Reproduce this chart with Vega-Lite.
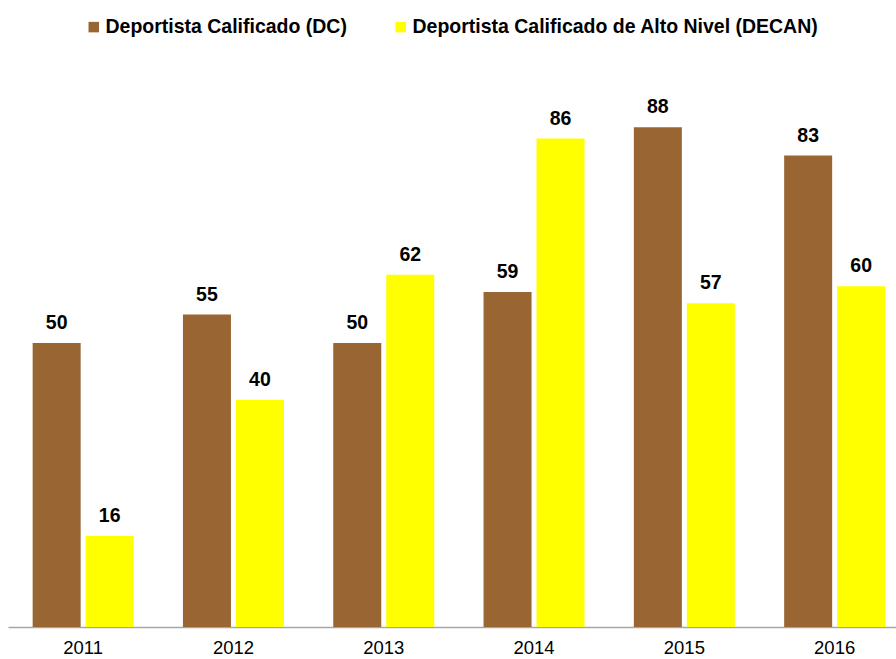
{
  "$schema": "https://vega.github.io/schema/vega-lite/v6.json",
  "width": 901.8,
  "height": 568,
  "autosize": "none",
  "padding": {"left": 8, "top": 59, "right": 0, "bottom": 32},
  "background": "white",
  "config": {"view": {"stroke": null}, "font": "Liberation Sans"},
  "data": {"values": [
    {"year": "2011", "serie": "Deportista Calificado (DC)", "value": 50},
    {"year": "2011", "serie": "Deportista Calificado de Alto Nivel (DECAN)", "value": 16},
    {"year": "2012", "serie": "Deportista Calificado (DC)", "value": 55},
    {"year": "2012", "serie": "Deportista Calificado de Alto Nivel (DECAN)", "value": 40},
    {"year": "2013", "serie": "Deportista Calificado (DC)", "value": 50},
    {"year": "2013", "serie": "Deportista Calificado de Alto Nivel (DECAN)", "value": 62},
    {"year": "2014", "serie": "Deportista Calificado (DC)", "value": 59},
    {"year": "2014", "serie": "Deportista Calificado de Alto Nivel (DECAN)", "value": 86},
    {"year": "2015", "serie": "Deportista Calificado (DC)", "value": 88},
    {"year": "2015", "serie": "Deportista Calificado de Alto Nivel (DECAN)", "value": 57},
    {"year": "2016", "serie": "Deportista Calificado (DC)", "value": 83},
    {"year": "2016", "serie": "Deportista Calificado de Alto Nivel (DECAN)", "value": 60}
  ]},
  "encoding": {
    "x": {"field": "year", "type": "nominal",
      "scale": {"paddingInner": 0.328, "paddingOuter": 0.164},
      "axis": {"title": null, "labelAngle": 0, "ticks": false, "domainColor": "#a6a6a6", "domainWidth": 1.5,
        "labelFontSize": 18.5, "labelColor": "#000000", "labelPadding": 12, "labelFont": "Liberation Sans"}},
    "xOffset": {"field": "serie", "type": "nominal", "scale": {"paddingInner": 0.094}},
    "y": {"field": "value", "type": "quantitative", "scale": {"domain": [0, 100]}, "axis": null}
  },
  "layer": [
    {"mark": {"type": "bar"},
     "encoding": {
       "color": {"field": "serie", "type": "nominal",
         "scale": {"domain": ["Deportista Calificado (DC)", "Deportista Calificado de Alto Nivel (DECAN)"], "range": ["#996633", "#ffff00"]},
         "legend": {"title": null, "orient": "none", "direction": "horizontal", "legendX": 76, "legendY": -42,
           "symbolType": "square", "symbolSize": 110, "symbolStrokeWidth": 0, "labelFontSize": 19.5, "labelFontWeight": "bold",
           "labelFont": "Liberation Sans", "labelColor": "#000000", "labelOffset": 2, "columnPadding": 43, "labelLimit": 600}}
     }},
    {"mark": {"type": "text", "baseline": "alphabetic", "dy": -14, "fontSize": 19.5, "fontWeight": "bold", "color": "#000000", "font": "Liberation Sans"},
     "encoding": {"text": {"field": "value", "type": "quantitative"}}}
  ]
}
